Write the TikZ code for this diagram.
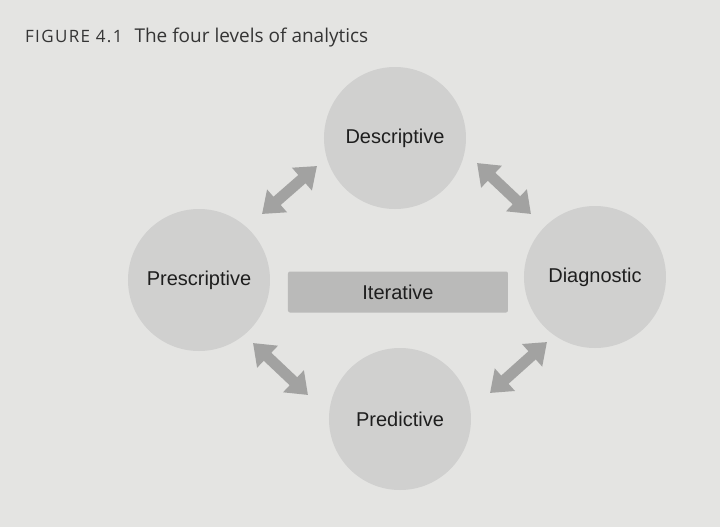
\documentclass[tikz,border=0pt]{standalone}
\usepackage{fontspec}
\setmainfont{Liberation Sans}
\newfontfamily\titlefont{Open Sans}
\usetikzlibrary{arrows.meta}
\usetikzlibrary{positioning}

\definecolor{paper}{HTML}{E4E4E2}
\definecolor{disc}{HTML}{D0D0CF}
\definecolor{bar}{HTML}{BABAB9}
\definecolor{arrowgray}{HTML}{A2A2A1}
\definecolor{ink}{HTML}{1E1E1E}

\begin{document}
\begin{tikzpicture}[x=0.5pt,y=-0.5pt,
  level/.style={circle,fill=disc,draw=none,minimum size=71pt,inner sep=0pt,text=ink,font=\fontsize{10}{12}\selectfont},
  loop box/.style={rectangle,rounded corners=1pt,fill=bar,draw=none,minimum width=110pt,minimum height=20.5pt,text=ink,font=\fontsize{10}{12}\selectfont},
  both ways/.style={draw=arrowgray,line width=5.5pt,{Triangle[width=14.5pt,length=10pt]}-{Triangle[width=14.5pt,length=10pt]}}]
\fill[paper] (0,0) rectangle (720,527);
\node[anchor=base west,text=ink!90,font=\titlefont\fontsize{9.5}{11}\selectfont] (title) at (18,42) {{\addfontfeatures{LetterSpace=8}\fontsize{8.5}{11}\selectfont FIGURE 4.1}\hspace{6pt}The four levels of analytics};
% the four levels
\node[level] (desc) at (395,138) {Descriptive};
\node[level] (presc) at (199,280) {Prescriptive};
\node[level] (diag) at (595,277) {Diagnostic};
\node[level] (pred) at (400,419) {Predictive};
\node[loop box] (iter) at (398,292) {Iterative};
% arrow ends
\coordinate (ul a) at (262,214);
\coordinate (ul b) at (317,166);
\coordinate (ur a) at (477,163);
\coordinate (ur b) at (531,214);
\coordinate (ll a) at (253,343);
\coordinate (ll b) at (308,395);
\coordinate (lr a) at (490,393);
\coordinate (lr b) at (547,342);
\draw[both ways] (ul a) -- (ul b);
\draw[both ways] (ur a) -- (ur b);
\draw[both ways] (ll a) -- (ll b);
\draw[both ways] (lr a) -- (lr b);
\end{tikzpicture}
\end{document}
